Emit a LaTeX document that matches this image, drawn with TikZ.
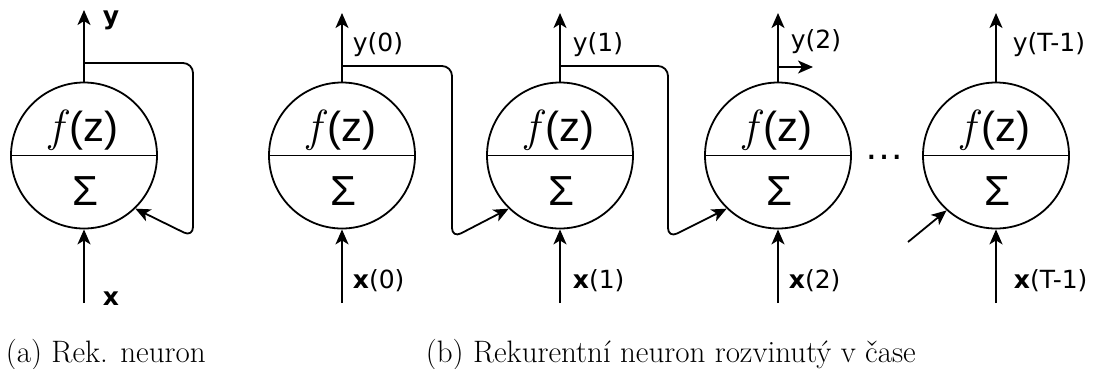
\documentclass[tikz,border=0pt]{standalone}
\usepackage{fontspec}
\newfontfamily\djvsans{DejaVu Sans}
\newfontfamily\arialsans{Liberation Sans}
\newcommand{\fitalic}{{\rmfamily\itshape\fontsize{45}{54}\selectfont f\/}}
\usetikzlibrary{arrows.meta}
\begin{document}
\begin{tikzpicture}[x=1pt, y=-1pt, line width=1.8pt,
  neuron/.style={circle, draw, minimum size=146pt, inner sep=0pt},
  fz/.style={anchor=base, inner sep=0pt, font=\arialsans\fontsize{42}{50}\selectfont},
  io/.style={anchor=base west, inner sep=0pt, font=\djvsans\fontsize{25}{30}\selectfont},
  arr/.style={-{Stealth[length=15pt, width=13pt, inset=4pt]}},
  loopback/.style={arr, rounded corners=10pt},
  subcap/.style={anchor=base west, inner sep=0pt, font=\fontsize{31}{37}\selectfont}]
\useasboundingbox (0,0) rectangle (1097,368);
% (a) recurrent neuron
\node[neuron] (rek) at (84,155.5) {};
\draw (rek.west) -- (rek.east);
\node[fz] (frek) at (84,141) {\fitalic(z)};
\node[fz] (srek) at (85,205) {Σ};
\coordinate (orek) at (84,10);
\coordinate (irek) at (84,303);
\coordinate (brek) at (84,63);
\coordinate (rrek) at (193,237);
\draw[arr] (rek.north) -- (orek);
\draw[arr] (irek) -- (rek.south);
\draw[loopback] (brek) -| (rrek) -- (rek.314);
\node[io] (yrek) at (102,24) {\bfseries y};
\node[io] (xrek) at (102,305) {\bfseries x};
% (b) unrolled in time
\node[neuron] (t0) at (342,155.5) {};
\node[neuron] (t1) at (560,155.5) {};
\node[neuron] (t2) at (778,155.5) {};
\node[neuron] (tT) at (996,155.5) {};
\draw (t0.west) -- (t0.east);
\draw (t1.west) -- (t1.east);
\draw (t2.west) -- (t2.east);
\draw (tT.west) -- (tT.east);
\node[fz] (f0) at (342,141) {\fitalic(z)};
\node[fz] (f1) at (560,141) {\fitalic(z)};
\node[fz] (f2) at (778,141) {\fitalic(z)};
\node[fz] (fT) at (996,141) {\fitalic(z)};
\node[fz] (s0) at (343,205) {Σ};
\node[fz] (s1) at (561,205) {Σ};
\node[fz] (s2) at (779,205) {Σ};
\node[fz] (sT) at (997,205) {Σ};
\coordinate (o0) at (342,13);
\coordinate (o1) at (560,13);
\coordinate (o2) at (778,13);
\coordinate (oT) at (996,13);
\coordinate (i0) at (342,303);
\coordinate (i1) at (560,303);
\coordinate (i2) at (778,303);
\coordinate (iT) at (996,303);
\draw[arr] (t0.north) -- (o0);
\draw[arr] (t1.north) -- (o1);
\draw[arr] (t2.north) -- (o2);
\draw[arr] (tT.north) -- (oT);
\draw[arr] (i0) -- (t0.south);
\draw[arr] (i1) -- (t1.south);
\draw[arr] (i2) -- (t2.south);
\draw[arr] (iT) -- (tT.south);
% state passed on to the next step
\coordinate (b0) at (342,66);
\coordinate (r0) at (452,238);
\coordinate (b1) at (560,66);
\coordinate (r1) at (668,238);
\coordinate (b2) at (778,67);
\coordinate (e2) at (813,67);
\coordinate (eT) at (908,242);
\draw[loopback] (b0) -| (r0) -- (t1.226);
\draw[loopback] (b1) -| (r1) -- (t2.226);
\draw[arr] (b2) -- (e2);
\draw[arr] (eT) -- (tT.228);
\node[anchor=base, inner sep=0pt, font=\arialsans\fontsize{40}{48}\selectfont] (dots) at (884,159) {…};
\node[io] (y0) at (352,51) {y(0)};
\node[io] (y1) at (572,51) {y(1)};
\node[io] (y2) at (790,48) {y(2)};
\node[io] (yT) at (1012,51) {y(T-1)};
\node[io] (x0) at (352,288.5) {\textbf{x}(0)};
\node[io] (x1) at (572,288.5) {\textbf{x}(1)};
\node[io] (x2) at (788,288.5) {\textbf{x}(2)};
\node[io] (xT) at (1013,288.5) {\textbf{x}(T-1)};
% captions
\node[subcap] (capa) at (5,362) {(a) Rek. neuron};
\node[subcap] (capb) at (425,362) {(b) Rekurentní neuron rozvinutý v čase};
\end{tikzpicture}
\end{document}
